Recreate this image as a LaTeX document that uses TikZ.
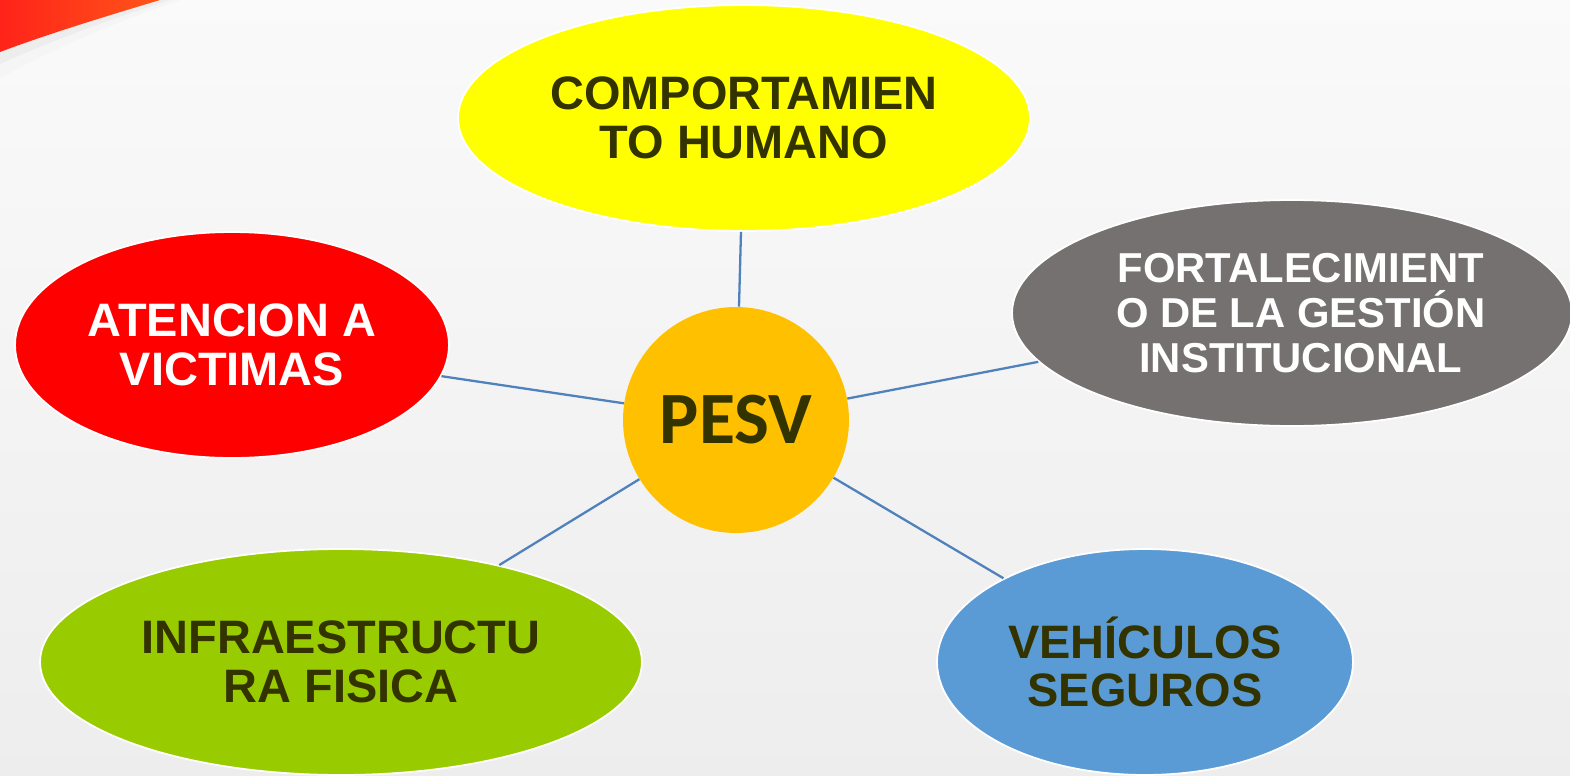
\documentclass[tikz,border=0pt]{standalone}
\usepackage{fontspec}
\setmainfont{Liberation Sans}
\newfontfamily\calibri{Carlito}
\usetikzlibrary{shapes.geometric}

\definecolor{olivetext}{HTML}{333300}
\definecolor{spokeblue}{HTML}{4F81BD}
\definecolor{hubyellow}{HTML}{FFC000}

\begin{document}
\begin{tikzpicture}[x=0.02cm, y=-0.02cm,
    bubble/.style={ellipse, draw=white, line width=1pt, inner sep=0pt, align=center,
        text=olivetext, font=\fontsize{26.7}{27.8}\selectfont\bfseries},
    hub/.style={circle, fill=hubyellow, inner sep=0pt, minimum size=4.52cm,
        text=olivetext, font=\calibri\fontsize{42}{44}\selectfont\bfseries},
    spoke/.style={draw=spokeblue, line width=1.3pt}]
% background
\shade[top color=white!98!black, bottom color=white!93!black] (0,0) rectangle (1570,775);
\useasboundingbox (0,0) rectangle (1570,775);
% corner swoosh
\fill[black!4] (0,0) -- (180,0) .. controls (115,22) and (50,50) .. (0,78) -- cycle;
\fill[black!7] (0,0) -- (170,0) .. controls (108,20) and (48,42) .. (0,64) -- cycle;
\shade[left color={rgb,255:red,255;green,35;blue,25}, right color={rgb,255:red,255;green,85;blue,25}]
    (0,0) -- (160,0) .. controls (100,18) and (45,35) .. (0,52) -- cycle;

% outer bubbles
\node[bubble, fill={rgb,255:red,255;green,255;blue,0}, minimum width=11.44cm, minimum height=4.52cm] (comportamiento) at (744,118) {COMPORTAMIEN\\TO HUMANO};
\node[bubble, fill=red, text=white, minimum width=8.68cm, minimum height=4.52cm] (atencion) at (232,345) {ATENCION A\\VICTIMAS};
\node[bubble, fill={rgb,255:red,118;green,113;blue,113}, text=white, minimum width=11.2cm, minimum height=4.52cm,
    font=\fontsize{23.8}{25.4}\selectfont\bfseries] (fortalecimiento) at (1292,313) {\hspace*{0.35cm}FORTALECIMIENT\\\hspace*{0.35cm}O DE LA GESTIÓN\\\hspace*{0.35cm}INSTITUCIONAL};
\node[bubble, fill={rgb,255:red,153;green,204;blue,0}, minimum width=12.04cm, minimum height=4.52cm] (infraestructura) at (341,662) {INFRAESTRUCTU\\RA FISICA};
\node[bubble, fill={rgb,255:red,91;green,155;blue,213}, minimum width=8.32cm, minimum height=4.52cm] (vehiculos) at (1145,662) {VEHÍCULOS\\SEGUROS};

% centre
\node[hub] (pesv) at (736,420) {PESV};

\foreach \t in {comportamiento,atencion,fortalecimiento,infraestructura,vehiculos}
    \draw[spoke] (pesv) -- (\t);
\end{tikzpicture}
\end{document}
